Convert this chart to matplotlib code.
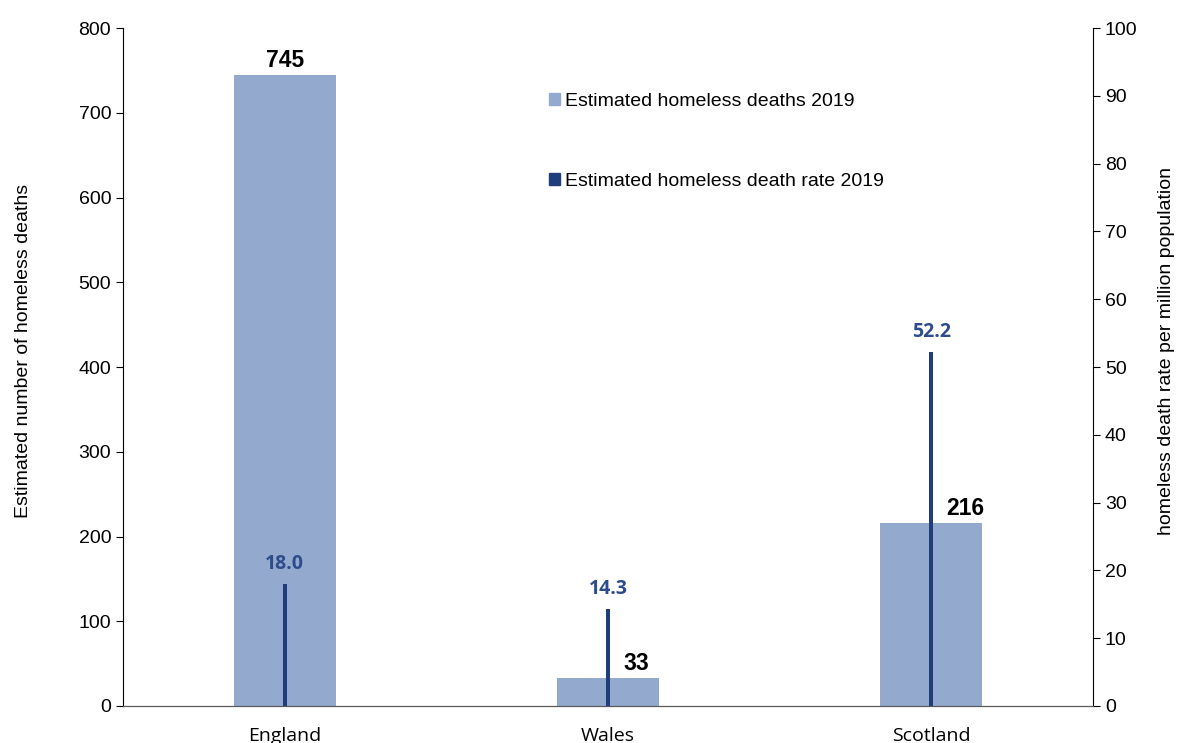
import matplotlib
matplotlib.use("Agg")
import matplotlib.pyplot as plt
from matplotlib.patches import Patch
import numpy as np

# data
nations = ["England", "Wales", "Scotland"]
deaths = [745, 33, 216]
rates = [18.0, 14.3, 52.2]
# where the bold death counts sit relative to the category centre
death_label_shift = [0.0, 0.087, 0.105]

bar_colour = "#94A9CE"
line_colour = "#1F3D7A"
label_blue = "#2E4C8C"

plt.rcParams["font.family"] = ["Liberation Sans", "DejaVu Sans"]

fig = plt.figure(figsize=(11.81, 7.43), dpi=100)
ax = fig.add_axes([123 / 1181, 1 - 706 / 743, 970 / 1181, 678 / 743])
ax2 = ax.twinx()

x = np.arange(len(nations))
ax.bar(x, deaths, width=0.315, color=bar_colour, zorder=2)
ax2.bar(x, rates, width=0.013, color=line_colour, zorder=3)

ax.set_xlim(-0.5, 2.5)
ax.set_ylim(0, 800)
ax2.set_ylim(0, 100)
ax.set_yticks(np.arange(0, 801, 100))
ax2.set_yticks(np.arange(0, 101, 10))

for i, d in enumerate(deaths):
    ax.annotate(str(d), (x[i] + death_label_shift[i], d), xytext=(0, 2),
                textcoords="offset points", ha="center", va="bottom",
                fontsize=16.5, fontweight="bold", color="black", zorder=5)
for i, r in enumerate(rates):
    ax2.annotate(f"{r:.1f}", (x[i], r), xytext=(0, 7),
                 textcoords="offset points", ha="center", va="bottom",
                 fontsize=14, fontweight="bold", color=label_blue,
                 family=["Open Sans", "DejaVu Sans"], zorder=5)

ax.set_xticks(x)
ax.set_xticklabels(nations, family=["Open Sans", "DejaVu Sans"], fontsize=14)
ax.tick_params(axis="x", length=0, pad=15)
ax.tick_params(axis="y", labelsize=14, length=5, direction="out")
ax2.tick_params(axis="y", labelsize=14, length=5, direction="out")

for a in (ax, ax2):
    a.spines["top"].set_visible(False)
    a.spines["bottom"].set_color("#595959")
ax.spines["right"].set_visible(False)
ax2.spines["left"].set_visible(False)

ax.set_ylabel("Estimated number of homeless deaths", fontsize=14)
ax2.set_ylabel("homeless death rate per million population", fontsize=14)
ax.yaxis.label.set_va("center")
ax2.yaxis.label.set_va("center")
ax.yaxis.set_label_coords(-0.103, 0.524)
ax2.yaxis.set_label_coords(1.076, 0.524)

handles = [Patch(color=bar_colour), Patch(color=line_colour)]
leg = ax.legend(handles, ["Estimated homeless deaths 2019", "Estimated homeless death rate 2019"],
                loc="upper left", bbox_to_anchor=(0.421, 0.93), frameon=False,
                fontsize=14, handlelength=0.55, handleheight=0.55, handletextpad=0.3,
                labelspacing=3.25)

fig.savefig("out.png", dpi=100)
